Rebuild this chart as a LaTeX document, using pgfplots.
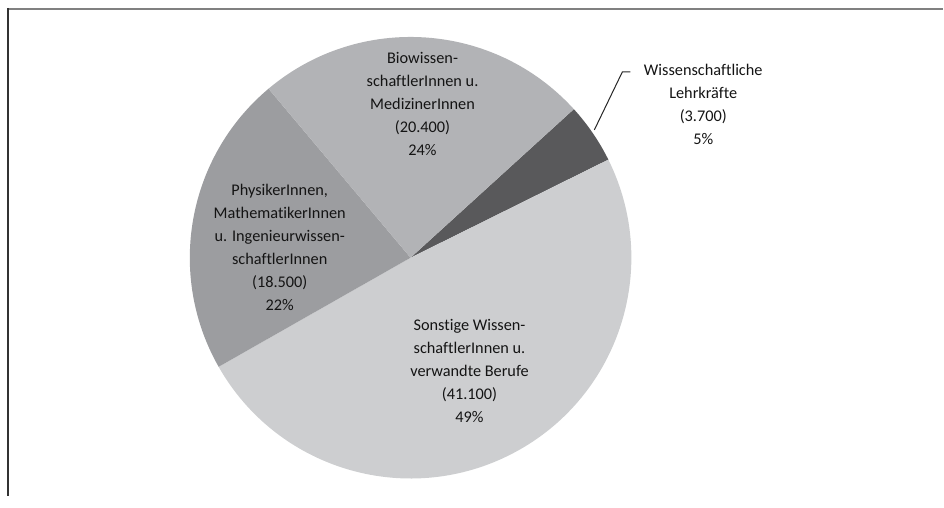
\documentclass[border=0pt]{standalone}
\usepackage{pgfplots}
\usepackage{pgfplotstable}
\pgfplotsset{compat=1.18}
\usepackage{fontspec}
\setmainfont{Carlito}[Ligatures={NoCommon}]
\definecolor{cLehr}{RGB}{89,89,91}
\definecolor{cSonst}{RGB}{205,206,208}
\definecolor{cPhys}{RGB}{156,157,160}
\definecolor{cBio}{RGB}{178,179,182}
\definecolor{cText}{RGB}{20,20,20}
\pgfplotstableread{
label value
Lehr 3700
Sonst 41100
Phys 18500
Bio 20400
}\piedata
\begin{document}
\begin{tikzpicture}
\pgfplotstablegetelem{0}{value}\of\piedata \let\vA\pgfplotsretval
\pgfplotstablegetelem{1}{value}\of\piedata \let\vB\pgfplotsretval
\pgfplotstablegetelem{2}{value}\of\piedata \let\vC\pgfplotsretval
\pgfplotstablegetelem{3}{value}\of\piedata \let\vD\pgfplotsretval
\edef\total{\fpeval{\vA+\vB+\vC+\vD}}
\edef\aA{42.3}
\edef\aB{\fpeval{round(\aA-360*\vA/\total,3)}}
\edef\aC{\fpeval{round(\aB-360*\vB/\total,3)}}
\edef\aD{\fpeval{round(\aC-360*\vC/\total,3)}}
\edef\aE{\fpeval{round(\aD-360*\vD/\total,3)}}
\begin{axis}[
  x=1pt, y=1pt,
  xmin=0, xmax=944, ymin=0, ymax=495,
  hide axis, clip=false,
  at={(0,0)}, anchor=south west,
]
\fill[cLehr]  (axis cs:411,237) -- ++(\aA:221pt) arc[start angle=\aA, end angle=\aB, radius=221pt] -- cycle;
\fill[cSonst] (axis cs:411,237) -- ++(\aB:221pt) arc[start angle=\aB, end angle=\aC, radius=221pt] -- cycle;
\fill[cPhys]  (axis cs:411,237) -- ++(\aC:221pt) arc[start angle=\aC, end angle=\aD, radius=221pt] -- cycle;
\fill[cBio]   (axis cs:411,237) -- ++(\aD:221pt) arc[start angle=\aD, end angle=\aE, radius=221pt] -- cycle;
% frame
\draw[line width=2pt, color=black!50] (axis cs:8,486) -- (axis cs:944,486);
\draw[line width=1.5pt, color=black!80] (axis cs:8,487) -- (axis cs:8,-2);
% leader line
\draw[line width=1pt, color=black!85] (axis cs:595,365) -- (axis cs:623,423) -- (axis cs:631,423);
% labels
\begin{scope}[every node/.style={align=center, text=cText, font=\fontsize{16.3}{23}\selectfont, inner sep=0pt}]
\node at (axis cs:423,390.5) {Biowissen-\\schaftlerInnen u.\\MedizinerInnen\\(20.400)\\24\%};
\node at (axis cs:704,390.5) {Wissenschaftliche\\Lehrkräfte\\(3.700)\\5\%};
\node at (axis cs:280,247.5) {PhysikerInnen,\\MathematikerInnen\\u. Ingenieurwissen-\\schaftlerInnen\\(18.500)\\22\%};
\node at (axis cs:470,123.5) {Sonstige Wissen-\\schaftlerInnen u.\\verwandte Berufe\\(41.100)\\49\%};
\end{scope}
\end{axis}
\path[use as bounding box] (0,0) rectangle (944pt,495pt);
\end{tikzpicture}
\end{document}
